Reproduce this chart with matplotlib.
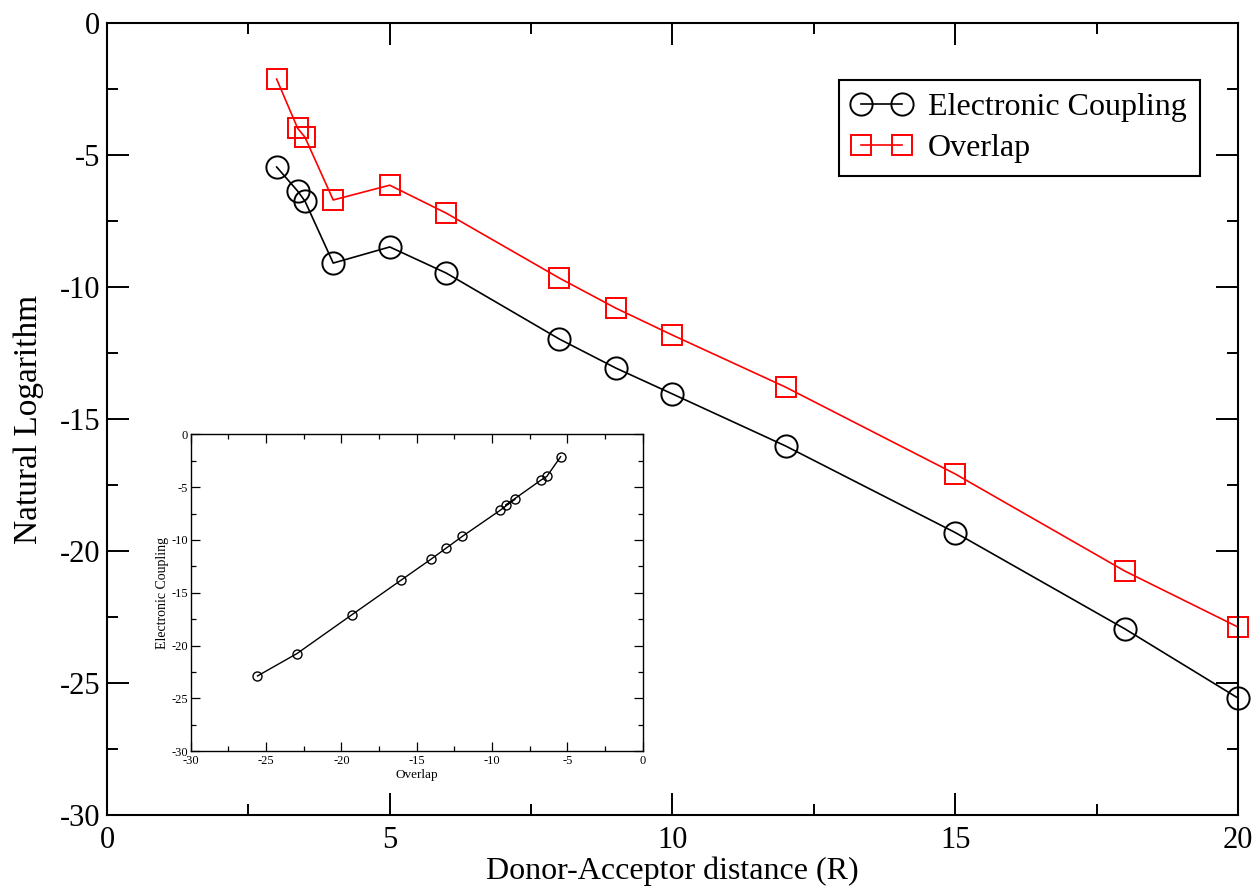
import numpy as np
import matplotlib.pyplot as plt
from matplotlib.ticker import MultipleLocator

# distances and log values
distance = [3.0, 3.37, 3.5, 4.0, 5.0, 6.0, 8.0, 9.0, 10.0, 12.0, 15.0, 18.0, 20.0]
coupling = [-5.45, -6.36, -6.74, -9.09, -8.48, -9.47, -11.97, -13.07, -14.05,
            -16.02, -19.30, -22.95, -25.57]
overlap = [-2.12, -3.98, -4.32, -6.70, -6.14, -7.20, -9.66, -10.80, -11.82,
           -13.79, -17.08, -20.76, -22.88]

plt.rcParams['font.family'] = ['Liberation Serif', 'DejaVu Serif']
plt.rcParams['axes.unicode_minus'] = False

fig = plt.figure(figsize=(12.59, 8.9), dpi=100)
ax = fig.add_axes([0.085, 0.0843, 0.8983, 0.8897])

ax.plot(distance, coupling, color='black', lw=1.2, marker='o', ms=16,
        mfc='none', mec='black', mew=1.4, label='Electronic Coupling', clip_on=False)
ax.plot(distance, overlap, color='red', lw=1.2, marker='s', ms=14,
        mfc='none', mec='red', mew=1.4, label='Overlap', clip_on=False)

ax.set_xlim(0, 20)
ax.set_ylim(-30, 0)
ax.xaxis.set_major_locator(MultipleLocator(5))
ax.xaxis.set_minor_locator(MultipleLocator(2.5))
ax.yaxis.set_major_locator(MultipleLocator(5))
ax.yaxis.set_minor_locator(MultipleLocator(2.5))
ax.tick_params(which='both', direction='in', top=True, right=True, labelsize=22, width=1.4)
ax.tick_params(which='major', length=16, pad=5)
ax.tick_params(axis='x', which='major', pad=8)
ax.tick_params(which='minor', length=8)
for s in ax.spines.values():
    s.set_linewidth(1.5)
ax.set_xlabel('Donor-Acceptor distance (R)', fontsize=23, labelpad=1)
ax.set_ylabel('Natural Logarithm', fontsize=24, labelpad=11)

leg = ax.legend(loc='upper right', bbox_to_anchor=(0.966, 0.928), borderaxespad=0,
                numpoints=2, fontsize=23, fancybox=False, framealpha=1,
                edgecolor='black', handlelength=1.9, borderpad=0.4,
                labelspacing=0.35, handletextpad=0.5)
leg.get_frame().set_linewidth(1.5)

# inset: overlap against coupling
ins = fig.add_axes([0.1515, 0.156, 0.359, 0.356])
ins.plot(coupling, overlap, color='black', lw=1.0, marker='o', ms=6.5,
         mfc='none', mec='black', mew=1.0)
ins.set_xlim(-30, 0)
ins.set_ylim(-30, 0)
ins.xaxis.set_major_locator(MultipleLocator(5))
ins.xaxis.set_minor_locator(MultipleLocator(2.5))
ins.yaxis.set_major_locator(MultipleLocator(5))
ins.yaxis.set_minor_locator(MultipleLocator(2.5))
ins.tick_params(which='both', direction='in', top=True, right=True, labelsize=9, width=0.9, pad=2)
ins.tick_params(axis='x', which='major', pad=3)
ins.tick_params(which='major', length=6.5)
ins.tick_params(which='minor', length=3.5)
for s in ins.spines.values():
    s.set_linewidth(1.0)
ins.set_xlabel('Overlap', fontsize=9.5, labelpad=1)
ins.set_ylabel('Electronic Coupling', fontsize=10, labelpad=2)

fig.savefig('out.png', dpi=100)
